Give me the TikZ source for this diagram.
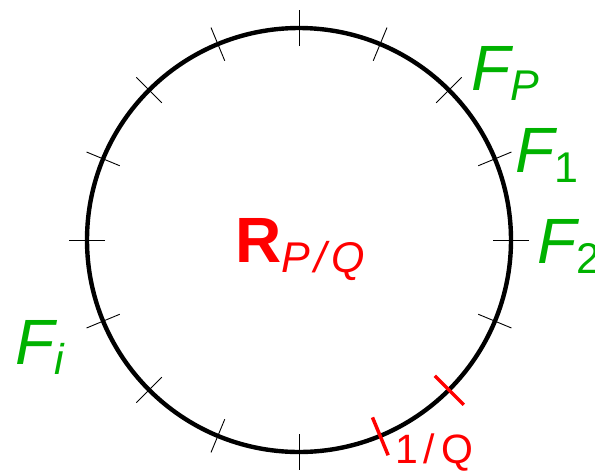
\documentclass[tikz,border=0pt]{standalone}
\usepackage{fontspec}
\setmainfont{Liberation Sans}
\usetikzlibrary{calc}
\definecolor{labelgreen}{RGB}{0,178,0}
\newcommand{\bigfont}{\fontsize{64}{64}\selectfont}
\newcommand{\subfont}{\fontsize{43}{43}\selectfont}
\newcommand{\flabel}[1]{\itshape F\raisebox{-10pt}{\subfont #1}}

\begin{document}
\begin{tikzpicture}[x=1pt,y=-1pt,
  ring/.style={line width=4.4pt},
  tickmark/.style={line width=0.9pt},
  redtick/.style={line width=3.5pt, red},
  flab/.style={anchor=base west, inner sep=0pt, text=labelgreen, font=\bigfont},
  redlab/.style={anchor=base west, inner sep=0pt, text=red}
]
  \useasboundingbox (0,0) rectangle (595,472);

  % the ring
  \coordinate (c) at (299,240);
  \draw[ring] (c) circle (212);

  % sixteen divisions, two of them in red
  \foreach \a in {0,22.5,90,112.5,...,337.5}
    \draw[tickmark] ($(c)+(\a:194)$) -- ($(c)+(\a:230)$);
  \foreach \a in {45,67.5}
    \draw[redtick] ($(c)+(\a:192)$) -- ($(c)+(\a:233)$);

  % labels
  \node[redlab, font=\bigfont\bfseries] (rpq) at (235,262)
    {R\raisebox{-10pt}{\subfont\mdseries\itshape P\hspace{4pt}/\hspace{5pt}Q}};
  \node[redlab, font=\fontsize{41}{41}\selectfont] (step) at (395,463) {1\hspace{6pt}/\hspace{6pt}Q};

  \node[flab] (fp) at (471,90) {\flabel{P}};
  \node[flab] (f1) at (515,172) {\flabel{\upshape 1}};
  \node[flab] (f2) at (537,263) {\flabel{\upshape 2}};
  \node[flab] (fi) at (15,364) {\flabel{i}};
\end{tikzpicture}
\end{document}
